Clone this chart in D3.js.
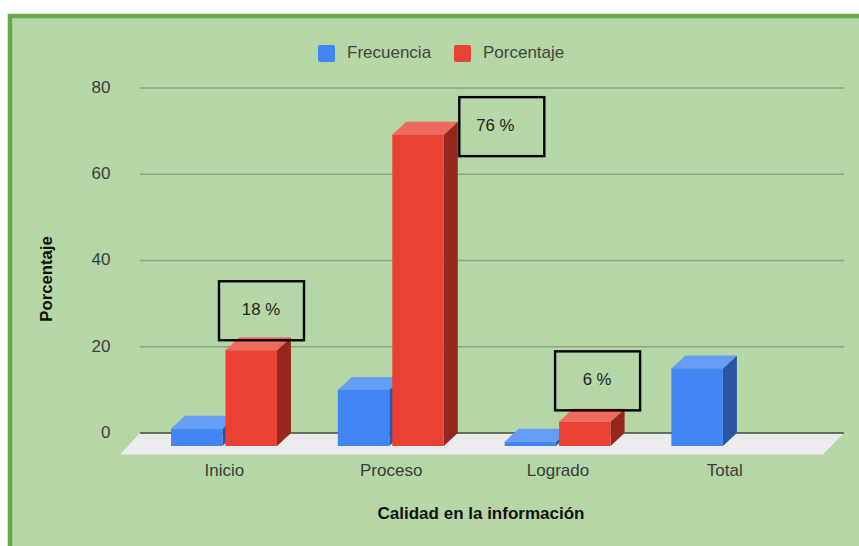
<!DOCTYPE html>
<html><head><meta charset="utf-8">
<script src="https://cdn.jsdelivr.net/npm/d3@7"></script>
<style>html,body{margin:0;padding:0;background:#fff}svg{display:block}text{font-family:"Liberation Sans",Arial,sans-serif}</style>
</head><body><svg id="c" width="859" height="546"></svg>
<script>
const categories = ["Inicio","Proceso","Logrado","Total"];
const seriesNames = ["Frecuencia","Porcentaje"];
const frecuencia = [4,13,1,18];
const porcentaje = [22.2,72.2,5.6,null];
const yTicks = [0,20,40,60,80];
const notes = ["18 %","76 %","6 %"];
const noteCats = ["Inicio","Proceso","Logrado"];
const noteVals = [22.2,72.2,5.6];

const W=859,H=546;
const svg=d3.select("#c");
const depthX=14, depthY=13;
const backY=d3.scaleLinear().domain([0,80]).range([433,88]);
const frontY=v=>backY(v)+depthY;
const x0=d3.scaleBand().domain(categories).range([143,810.2]);
const x1=d3.scaleBand().domain(seriesNames).range([28,134]).paddingInner(0.055);
const colors={Frecuencia:{front:"#4285f4",top:"#659cf6",side:"#2a55a0"},
              Porcentaje:{front:"#e94233",top:"#ee6a5d",side:"#97271d"}};

svg.append("rect").attr("x",10).attr("y",16).attr("width",W+20).attr("height",H+20)
  .attr("fill","#b5d6a6").attr("stroke","#6aa84f").attr("stroke-width",4.5);

// floor
svg.append("polygon").attr("points",[[140,433],[844,433],[823,454.5],[120,454.5]].join(" ")).attr("fill","#ebebeb");

// grid
const grid=svg.append("g");
grid.selectAll("line").data(yTicks).join("line")
  .attr("x1",140).attr("x2",844)
  .attr("y1",d=>backY(d)).attr("y2",d=>backY(d))
  .attr("stroke",d=>d===0?"#3f4f38":"#8aa67e").attr("stroke-width",d=>d===0?1.6:1.3);
svg.append("g").selectAll("text").data(yTicks).join("text")
  .attr("x",110.5).attr("y",d=>backY(d)-1).attr("dy","0.35em").attr("text-anchor","end")
  .attr("font-size",17).attr("fill","#3c3c3c").text(d=>d);

// bars
const bars=[];
seriesNames.forEach((s,si)=>{
  const vals=si===0?frecuencia:porcentaje;
  categories.forEach((c,i)=>{ if(vals[i]!=null) bars.push({s,c,v:vals[i]}); });
});
bars.sort((a,b)=>d3.ascending(categories.indexOf(a.c),categories.indexOf(b.c))||d3.ascending(seriesNames.indexOf(a.s),seriesNames.indexOf(b.s)));
const g=svg.append("g");
bars.forEach(d=>{
  const l=x0(d.c)+x1(d.s), r=l+x1.bandwidth(), t=frontY(d.v), b=frontY(0), col=colors[d.s];
  g.append("polygon").attr("points",[[r,t],[r+depthX,t-depthY],[r+depthX,b-depthY],[r,b]].join(" ")).attr("fill",col.side);
  g.append("polygon").attr("points",[[l,t],[l+depthX,t-depthY],[r+depthX,t-depthY],[r,t]].join(" ")).attr("fill",col.top);
  g.append("rect").attr("x",l).attr("y",t).attr("width",x1.bandwidth()).attr("height",b-t).attr("fill",col.front);
});

// category labels
svg.append("g").selectAll("text").data(categories).join("text")
  .attr("x",c=>x0(c)+x0.bandwidth()/2-2).attr("y",470.5).attr("dy","0.35em").attr("text-anchor","middle")
  .attr("font-size",17).attr("fill","#3c3c3c").text(c=>c);

// axis titles
svg.append("text").attr("x",481).attr("y",513).attr("dy","0.35em").attr("text-anchor","middle")
  .attr("font-size",17).attr("font-weight","bold").attr("fill","#111").text("Calidad en la información");
svg.append("text").attr("transform","translate(46,279) rotate(-90)").attr("dy","0.35em").attr("text-anchor","middle")
  .attr("font-size",16.7).attr("font-weight","bold").attr("fill","#111").text("Porcentaje");

// legend
const legendSwatchX=[318,454], legendTextX=[347,483];
seriesNames.forEach((s,i)=>{
  svg.append("rect").attr("x",legendSwatchX[i]).attr("y",45).attr("width",17).attr("height",17).attr("rx",2).attr("fill",colors[s].front);
  svg.append("text").attr("x",legendTextX[i]).attr("y",52).attr("dy","0.35em").attr("font-size",17).attr("fill","#444").text(s);
});

// annotation boxes
const boxW=85, boxH=59;
const noteOffX=[-6.5,67,-4], noteGap=[10,-21.5,11.5], textShift=[-0.5,-6.5,-0.5];
notes.forEach((n,i)=>{
  const cat=noteCats[i];
  const bx=x0(cat)+x1("Porcentaje")+noteOffX[i];
  const by=frontY(noteVals[i])-noteGap[i]-boxH;
  svg.append("rect").attr("x",bx).attr("y",by).attr("width",boxW).attr("height",boxH)
    .attr("fill","none").attr("stroke","#000").attr("stroke-width",2.4);
  svg.append("text").attr("x",bx+boxW/2+textShift[i]).attr("y",by+boxH/2-2).attr("dy","0.35em").attr("text-anchor","middle")
    .attr("font-size",16.8).attr("fill","#222").text(n);
});
</script></body></html>
